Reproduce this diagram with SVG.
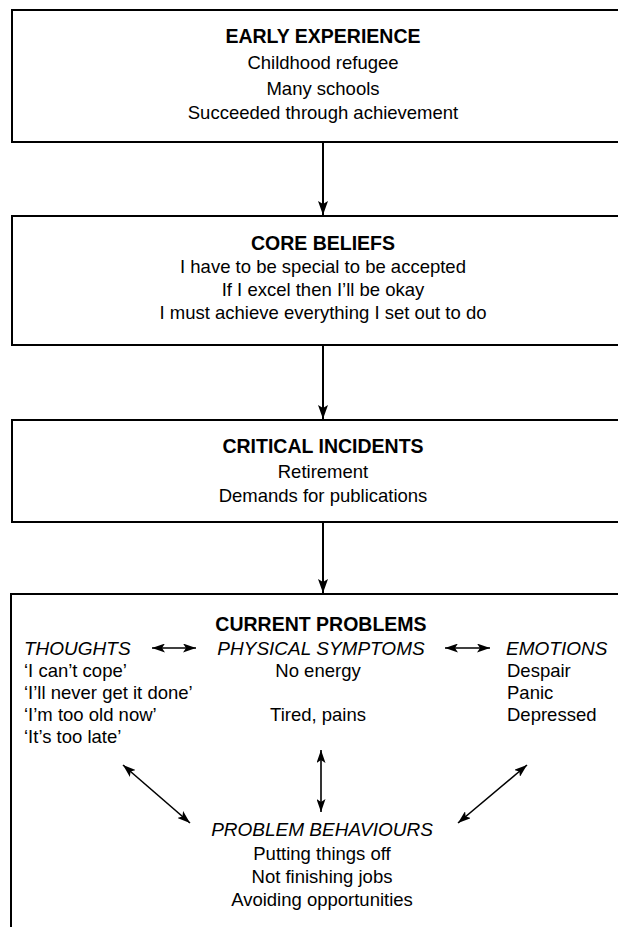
<svg xmlns="http://www.w3.org/2000/svg" width="618" height="927" viewBox="0 0 618 927">
<defs>
<style>
.box{fill:#fff;stroke:#000;stroke-width:2}
.t{font-family:"Liberation Sans",Arial,sans-serif;font-size:18.5px;fill:#000}
.h{font-weight:bold;font-size:19.5px}
.i{font-style:italic;font-size:19px}
.c{text-anchor:middle}
.ln{stroke:#000;stroke-width:2;fill:none}
.sl{stroke:#000;stroke-width:1.6;fill:none}
</style>
<marker id="ah" viewBox="0 0 14 10" refX="14" refY="5" markerWidth="14" markerHeight="10" markerUnits="userSpaceOnUse" orient="auto-start-reverse">
<path d="M0,0 L14,5 L0,10 L3,5 z" fill="#000"/>
</marker>
<marker id="sa" viewBox="0 0 13 9" refX="13" refY="4.5" markerWidth="13" markerHeight="9" markerUnits="userSpaceOnUse" orient="auto-start-reverse">
<path d="M0,0 L13,4.5 L0,9 L3,4.5 z" fill="#000"/>
</marker>
</defs>
<rect width="618" height="927" fill="#fff"/>

<g id="early-experience">
<rect class="box" x="12" y="10" width="640" height="132"/>
<text class="t h c" x="323" y="43">EARLY EXPERIENCE</text>
<text class="t c" x="323" y="69">Childhood refugee</text>
<text class="t c" x="323" y="95">Many schools</text>
<text class="t c" x="323" y="119">Succeeded through achievement</text>
</g>

<g id="core-beliefs">
<rect class="box" x="12" y="216" width="640" height="129"/>
<text class="t h c" x="323" y="250">CORE BELIEFS</text>
<text class="t c" x="323" y="273">I have to be special to be accepted</text>
<text class="t c" x="323" y="296">If I excel then I’ll be okay</text>
<text class="t c" x="323" y="319">I must achieve everything I set out to do</text>
</g>

<g id="critical-incidents">
<rect class="box" x="12" y="420" width="640" height="102"/>
<text class="t h c" x="323" y="453">CRITICAL INCIDENTS</text>
<text class="t c" x="323" y="478">Retirement</text>
<text class="t c" x="323" y="502">Demands for publications</text>
</g>

<g id="current-problems">
<rect class="box" x="11" y="594" width="640" height="360"/>
<text class="t h c" x="321" y="631">CURRENT PROBLEMS</text>
</g>

<g id="thoughts">
<text class="t i" x="24" y="655">THOUGHTS</text>
<text class="t" x="24" y="677">‘I can’t cope’</text>
<text class="t" x="24" y="699">‘I’ll never get it done’</text>
<text class="t" x="24" y="721">‘I’m too old now’</text>
<text class="t" x="24" y="743">‘It’s too late’</text>
</g>

<g id="physical-symptoms">
<text class="t i c" x="321" y="655">PHYSICAL SYMPTOMS</text>
<text class="t c" x="318" y="677">No energy</text>
<text class="t c" x="318" y="721">Tired, pains</text>
</g>

<g id="emotions">
<text class="t i" x="506" y="655">EMOTIONS</text>
<text class="t" x="507" y="677">Despair</text>
<text class="t" x="507" y="699">Panic</text>
<text class="t" x="507" y="721">Depressed</text>
</g>

<g id="problem-behaviours">
<text class="t i c" x="322" y="836">PROBLEM BEHAVIOURS</text>
<text class="t c" x="322" y="860">Putting things off</text>
<text class="t c" x="322" y="883">Not finishing jobs</text>
<text class="t c" x="322" y="906">Avoiding opportunities</text>
</g>

<g id="connectors">
<line class="ln" x1="323" y1="142" x2="323" y2="215" marker-end="url(#ah)"/>
<line class="ln" x1="323" y1="345" x2="323" y2="419" marker-end="url(#ah)"/>
<line class="ln" x1="323" y1="522" x2="323" y2="593" marker-end="url(#ah)"/>
<line class="sl" x1="152" y1="648" x2="196" y2="648" marker-start="url(#sa)" marker-end="url(#sa)"/>
<line class="sl" x1="445" y1="648" x2="490" y2="648" marker-start="url(#sa)" marker-end="url(#sa)"/>
<line class="sl" x1="321" y1="750" x2="321" y2="812" marker-start="url(#sa)" marker-end="url(#sa)"/>
<line class="sl" x1="123" y1="765" x2="190" y2="823" marker-start="url(#sa)" marker-end="url(#sa)"/>
<line class="sl" x1="527" y1="765" x2="458" y2="823" marker-start="url(#sa)" marker-end="url(#sa)"/>
</g>
</svg>
